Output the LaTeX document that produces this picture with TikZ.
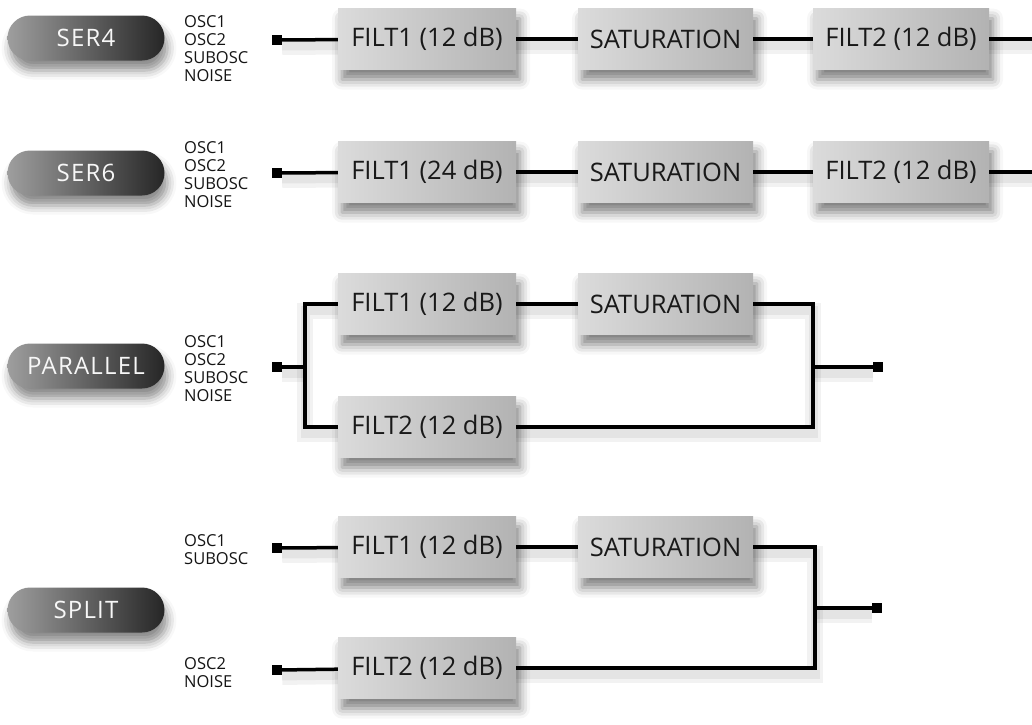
\documentclass[tikz,border=0pt]{standalone}
\usepackage{fontspec}
\setmainfont{Open Sans}
\newfontfamily\pillfont[LetterSpace=5]{Open Sans}
\usetikzlibrary{shadows.blur}
\begin{document}
\begin{tikzpicture}[x=1pt,y=-1pt,
  blk/.style={rectangle, minimum width=178pt, minimum height=61pt, inner sep=0pt,
    left color=black!14, right color=black!30, text=black!90,
    font=\fontsize{25.5}{25.5}\selectfont,
    blur shadow={shadow xshift=4pt, shadow yshift=-10pt, shadow blur radius=10pt, shadow opacity=50}},
  pill/.style={rectangle, rounded corners=22.5pt, minimum width=157pt, minimum height=45pt, inner sep=0pt,
    left color=black!38, right color=black!85, text=black!3,
    font=\pillfont\fontsize{24}{24}\selectfont,
    blur shadow={shadow xshift=3pt, shadow yshift=-10pt, shadow blur radius=9pt, shadow opacity=45}},
  src/.style={anchor=west, align=left, inner sep=0pt, text=black!92,
    font=\fontsize{16.5}{18}\selectfont},
  term/.style={rectangle, fill=black, minimum size=10pt, inner sep=0pt},
  wire/.style={line width=3.5pt, black,
    preaction={draw=black, opacity=0.05, line width=16pt, transform canvas={yshift=-7pt}},
    preaction={draw=black, opacity=0.06, line width=9pt, transform canvas={yshift=-6pt}}}
]
\useasboundingbox (0,0) rectangle (1032,724);

% ---------------- SER4 ----------------
\node[pill] (p1) at (86,38) {SER4};
\node[src] (s1) at (184,49) {OSC1\\OSC2\\SUBOSC\\NOISE};
\node[term] (i1) at (277,40) {};
\node[blk] (a1) at (427,39) {FILT1 (12 dB)};
\node[blk, minimum width=175pt] (b1) at (665.5,39) {SATURATION};
\node[blk, minimum width=176pt] (c1) at (901,39) {FILT2 (12 dB)};
\coordinate (o1) at (1032,39);
\draw[wire] (i1) -- (a1);
\draw[wire] (a1) -- (b1);
\draw[wire] (b1) -- (c1);
\draw[wire] (c1) -- (o1);

% ---------------- SER6 ----------------
\node[pill] (p2) at (86,173) {SER6};
\node[src] (s2) at (184,175) {OSC1\\OSC2\\SUBOSC\\NOISE};
\node[term] (i2) at (277,173) {};
\node[blk] (a2) at (427,172) {FILT1 (24 dB)};
\node[blk, minimum width=175pt] (b2) at (665.5,172) {SATURATION};
\node[blk, minimum width=176pt] (c2) at (901,172) {FILT2 (12 dB)};
\coordinate (o2) at (1032,172);
\draw[wire] (i2) -- (a2);
\draw[wire] (a2) -- (b2);
\draw[wire] (b2) -- (c2);
\draw[wire] (c2) -- (o2);

% ---------------- PARALLEL ----------------
\node[pill] (p3) at (86,366) {PARALLEL};
\node[src] (s3) at (184,369) {OSC1\\OSC2\\SUBOSC\\NOISE};
\node[term] (i3) at (277,367) {};
\coordinate (j3) at (305,367);
\node[blk] (a3) at (427,304) {FILT1 (12 dB)};
\node[blk, minimum width=175pt] (b3) at (665.5,304) {SATURATION};
\node[blk] (d3) at (427,427) {FILT2 (12 dB)};
\coordinate (m3) at (813,367);
\node[term] (o3) at (878,367) {};
\draw[wire] (i3) -- (j3);
\draw[wire] (a3.west) -| (j3) |- (d3.west);
\draw[wire] (a3) -- (b3);
\draw[wire] (b3.east) -| (m3) |- (d3.east);
\draw[wire] (m3) -- (o3);

% ---------------- SPLIT ----------------
\node[pill] (p4) at (86,610) {SPLIT};
\node[src] (s4) at (184,550) {OSC1\\SUBOSC};
\node[src] (t4) at (184,673) {OSC2\\NOISE};
\node[term] (i4) at (277,548) {};
\node[term] (k4) at (277,670) {};
\node[blk] (a4) at (427,547) {FILT1 (12 dB)};
\node[blk, minimum width=175pt] (b4) at (665.5,547) {SATURATION};
\node[blk] (d4) at (427,668) {FILT2 (12 dB)};
\coordinate (m4) at (815,608);
\node[term] (o4) at (877,608) {};
\draw[wire] (i4) -- (a4);
\draw[wire] (k4) -- (d4);
\draw[wire] (a4) -- (b4);
\draw[wire] (b4.east) -| (m4) |- (d4.east);
\draw[wire] (m4) -- (o4);
\end{tikzpicture}
\end{document}
